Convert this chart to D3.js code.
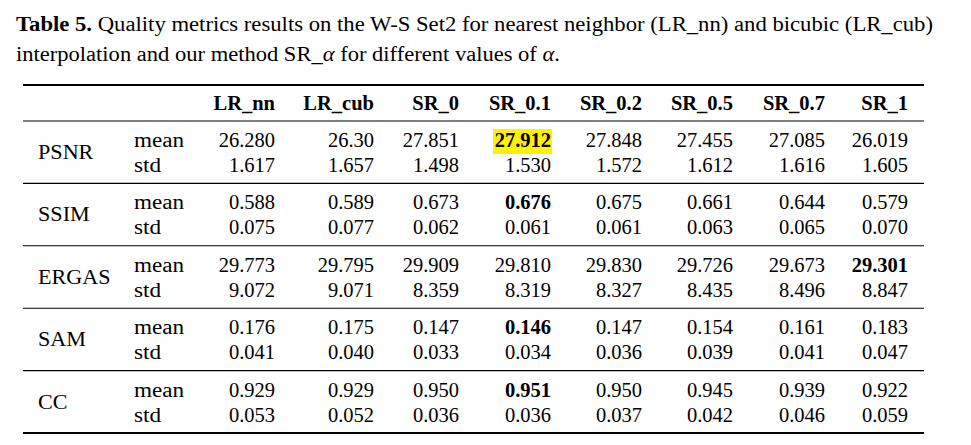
<!DOCTYPE html>
<html>
<head>
<meta charset="utf-8">
<script src="https://cdn.jsdelivr.net/npm/d3@7"></script>
<style>
  body { margin: 0; background: #fff; }
  svg { font-family: "Liberation Serif", "Times New Roman", serif; }
</style>
</head>
<body>
<svg id="table" width="971" height="445"></svg>
<script>
// table data
var columns = ["LR_nn", "LR_cub", "SR_0", "SR_0.1", "SR_0.2", "SR_0.5", "SR_0.7", "SR_1"];
var metrics = ["PSNR", "SSIM", "ERGAS", "SAM", "CC"];
var stats = ["mean", "std"];

var psnrMean  = ["26.280", "26.30", "27.851", "27.912", "27.848", "27.455", "27.085", "26.019"];
var psnrStd   = ["1.617", "1.657", "1.498", "1.530", "1.572", "1.612", "1.616", "1.605"];
var ssimMean  = ["0.588", "0.589", "0.673", "0.676", "0.675", "0.661", "0.644", "0.579"];
var ssimStd   = ["0.075", "0.077", "0.062", "0.061", "0.061", "0.063", "0.065", "0.070"];
var ergasMean = ["29.773", "29.795", "29.909", "29.810", "29.830", "29.726", "29.673", "29.301"];
var ergasStd  = ["9.072", "9.071", "8.359", "8.319", "8.327", "8.435", "8.496", "8.847"];
var samMean   = ["0.176", "0.175", "0.147", "0.146", "0.147", "0.154", "0.161", "0.183"];
var samStd    = ["0.041", "0.040", "0.033", "0.034", "0.036", "0.039", "0.041", "0.047"];
var ccMean    = ["0.929", "0.929", "0.950", "0.951", "0.950", "0.945", "0.939", "0.922"];
var ccStd     = ["0.053", "0.052", "0.036", "0.036", "0.037", "0.042", "0.046", "0.059"];

// best value per metric (bold), and the one highlighted cell
var bestCells = [["PSNR", "SR_0.1"], ["SSIM", "SR_0.1"], ["ERGAS", "SR_1"], ["SAM", "SR_0.1"], ["CC", "SR_0.1"]];
var highlight = ["PSNR", "SR_0.1"];

var tableRows = {
    PSNR:  [psnrMean, psnrStd],
    SSIM:  [ssimMean, ssimStd],
    ERGAS: [ergasMean, ergasStd],
    SAM:   [samMean, samStd],
    CC:    [ccMean, ccStd]
};

var svg = d3.select("#table");
var fs = 20.5;

// the original is set in Palatino, a bit wider than Times
function widen(sel, k) {
    sel.each(function() {
        var w = this.getComputedTextLength();
        d3.select(this).attr("textLength", w * k).attr("lengthAdjust", "spacingAndGlyphs");
    });
}

// caption
var cap1 = svg.append("text").attr("x", 16).attr("y", 31).attr("font-size", fs)
    .attr("textLength", 917).attr("lengthAdjust", "spacingAndGlyphs");
cap1.append("tspan").attr("font-weight", "bold").text("Table 5.");
cap1.append("tspan").text(" Quality metrics results on the W-S Set2 for nearest neighbor (LR_nn) and bicubic (LR_cub)");

var cap2 = svg.append("text").attr("x", 16).attr("y", 61).attr("font-size", fs)
    .attr("textLength", 544).attr("lengthAdjust", "spacingAndGlyphs");
cap2.append("tspan").text("interpolation and our method SR_");
cap2.append("tspan").attr("font-style", "italic").text("\u03b1");
cap2.append("tspan").text(" for different values of ");
cap2.append("tspan").attr("font-style", "italic").text("\u03b1");
cap2.append("tspan").text(".");

// scales
var x = d3.scaleOrdinal()
    .domain(columns)
    .range([275, 374, 459, 551, 642, 733, 825, 908]);

var y = d3.scaleBand()
    .domain(metrics)
    .range([121, 433])
    .paddingInner(0);

var left = 23, right = 924;

// rules
svg.append("line").attr("x1", left).attr("x2", right).attr("y1", 85).attr("y2", 85)
    .attr("stroke", "#000").attr("stroke-width", 2.2);
svg.selectAll(".rule").data(metrics).enter().append("line")
    .attr("class", "rule")
    .attr("x1", left).attr("x2", right)
    .attr("y1", function(d) { return y(d); })
    .attr("y2", function(d) { return y(d); })
    .attr("stroke", "#000").attr("stroke-width", 1.1);
svg.append("line").attr("x1", left).attr("x2", right).attr("y1", 433).attr("y2", 433)
    .attr("stroke", "#000").attr("stroke-width", 2.2);

// header
svg.selectAll(".head").data(columns).enter().append("text")
    .attr("class", "head")
    .attr("x", function(d) { return x(d); })
    .attr("y", 110)
    .attr("text-anchor", "end")
    .attr("font-size", fs)
    .attr("font-weight", "bold")
    .text(function(d) { return d; });

// highlight behind the best PSNR
var hi = svg.append("rect")
    .attr("x", x(highlight[1]) - 58)
    .attr("y", y(highlight[0]) + 8)
    .attr("width", 59)
    .attr("height", 25)
    .attr("fill", "#fff200");

var groups = svg.selectAll(".metric").data(metrics).enter().append("g")
    .attr("class", "metric")
    .attr("transform", function(d) { return "translate(0," + y(d) + ")"; });

var rowLabels = groups.append("text")
    .attr("x", 38)
    .attr("y", 38)
    .attr("font-size", fs)
    .text(function(d) { return d; });
widen(rowLabels, 1.08);

stats.forEach(function(s, si) {
    var yy = si == 0 ? 26 : 51;
    var lab = groups.append("text")
        .attr("x", 134)
        .attr("y", yy)
        .attr("font-size", fs)
        .text(s);
    widen(lab, 1.13);

    groups.each(function(m) {
        var vals = tableRows[m][si];
        d3.select(this).selectAll(".v" + si).data(columns).enter().append("text")
            .attr("class", "v" + si)
            .attr("x", function(c) { return x(c); })
            .attr("y", yy)
            .attr("text-anchor", "end")
            .attr("font-size", fs)
            .attr("font-weight", function(c) {
                var bold = si == 0 && bestCells.some(function(b) { return b[0] == m && b[1] == c; });
                return bold ? "bold" : "normal";
            })
            .text(function(c, i) { return vals[i]; });
    });
});
</script>
</body>
</html>
